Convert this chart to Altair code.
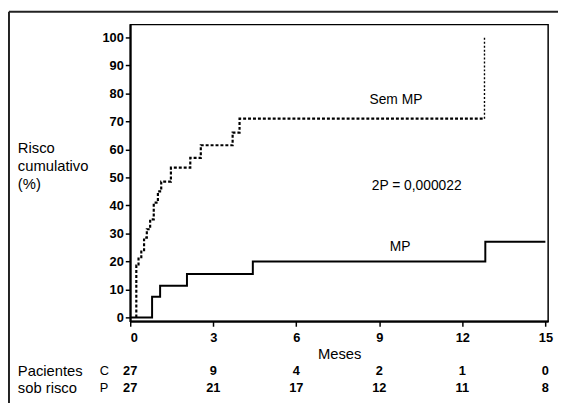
import altair as alt
import pandas as pd

# ---- data ----
sem_t = [0.22, 0.22, 0.30, 0.40, 0.50, 0.60, 0.72, 0.85, 1.00, 1.12, 1.47, 2.17, 2.55, 3.70, 3.95, 12.80]
sem_v = [0.0, 18.5, 21.0, 24.0, 28.5, 31.5, 35.0, 41.0, 45.0, 48.5, 53.5, 57.0, 61.5, 66.0, 71.0, 71.0]
sem_end_t = [12.80, 12.80]
sem_end_v = [71.0, 100.0]

mp_t = [0.0, 0.79, 1.08, 2.05, 4.43, 12.83, 15.0]
mp_v = [0.0, 7.4, 11.3, 15.5, 20.0, 27.0, 27.0]

ann_text = ["Sem MP", "2P = 0,000022", "MP"]
ann_x = [9.6, 10.35, 9.75]
ann_y = [77.5, 46.8, 25.0]

risk_months = [0, 3, 6, 9, 12, 15]
risk_c = [27, 9, 4, 2, 1, 0]
risk_p = [27, 21, 17, 12, 11, 8]

ytitle_lines = ["Risco", "cumulativo", "(%)"]
row_labels = ["Pacientes", "sob risco"]
group_labels = ["C", "P"]

FONT = "Liberation Sans"
XDOM = [0, 15.1]
YDOM = [-1.4, 104.6]

xs = alt.Scale(domain=XDOM, nice=False, zero=False)
ys = alt.Scale(domain=YDOM, nice=False, zero=False)

sem_df = pd.DataFrame({"t": sem_t, "v": sem_v, "o": range(len(sem_t))})
sem_end_df = pd.DataFrame({"t": sem_end_t, "v": sem_end_v, "o": range(2)})
mp_df = pd.DataFrame({"t": mp_t, "v": mp_v, "o": range(len(mp_t))})

x_axis = alt.Axis(values=[0, 3, 6, 9, 12, 15], title="Meses", titleFontSize=15,
                  titleFontWeight="normal", titleFont=FONT, titlePadding=3,
                  titleColor="black",
                  labelFont=FONT, labelFontSize=13, labelColor="black", labelFontWeight="bold",
                  labelOverlap=False,
                  tickSize=5, labelPadding=5, domainColor="black", domainWidth=2,
                  tickColor="black", tickWidth=1.5, grid=False)
y_axis = alt.Axis(values=list(range(0, 101, 10)), title=None,
                  labelFont=FONT, labelFontSize=13, labelColor="black", labelFontWeight="bold",
                  labelOverlap=False,
                  tickSize=5, labelPadding=2, domainColor="black", domainWidth=2,
                  tickColor="black", tickWidth=1.5, grid=False)

X = lambda f: alt.X(f, scale=xs, axis=x_axis)
Y = lambda f: alt.Y(f, scale=ys, axis=y_axis)

mp_line = alt.Chart(mp_df).mark_line(interpolate="step-after", color="black", strokeWidth=2).encode(
    x=X("t:Q"), y=Y("v:Q"), order="o:Q")

sem_line = alt.Chart(sem_df).mark_line(interpolate="step-after", color="black", strokeWidth=2.2,
                                       strokeDash=[3, 2]).encode(
    x=X("t:Q"), y=Y("v:Q"), order="o:Q")

sem_end = alt.Chart(sem_end_df).mark_line(color="black", strokeWidth=1.4, strokeDash=[2, 2]).encode(
    x=X("t:Q"), y=Y("v:Q"), order="o:Q")

ann = alt.Chart(pd.DataFrame({"txt": ann_text, "x": ann_x, "y": ann_y})).mark_text(
    font=FONT, fontSize=14, color="black", align="center", baseline="middle").encode(
    x=X("x:Q"), y=Y("y:Q"), text="txt:N")

layers = [mp_line, sem_line, sem_end, ann]

# risk table
ROW_Y = [351, 369]
for counts, yy in zip([risk_c, risk_p], ROW_Y):
    df = pd.DataFrame({"m": risk_months, "n": [str(v) for v in counts]})
    layers.append(alt.Chart(df).mark_text(
        font=FONT, fontSize=13, fontWeight="bold", color="black", align="center",
        baseline="middle").encode(
        x=X("m:Q"), y=alt.value(yy), text="n:N"))

one = pd.DataFrame({"a": [0]})
for lab, yy in zip(row_labels, ROW_Y):
    layers.append(alt.Chart(one).mark_text(font=FONT, fontSize=15, color="black", align="left",
                                           baseline="middle").encode(
        x=alt.value(-114), y=alt.value(yy), text=alt.value(lab)))
for lab, yy in zip(group_labels, ROW_Y):
    layers.append(alt.Chart(one).mark_text(font=FONT, fontSize=13, color="black", align="left",
                                           baseline="middle").encode(
        x=alt.value(-31), y=alt.value(yy), text=alt.value(lab)))
for lab, yy in zip(ytitle_lines, [125, 144, 162]):
    layers.append(alt.Chart(one).mark_text(font=FONT, fontSize=15, color="black", align="left",
                                           baseline="middle").encode(
        x=alt.value(-114), y=alt.value(yy), text=alt.value(lab)))

frame_top = alt.Chart(one).mark_rule(color="#222", strokeWidth=2).encode(
    x=alt.value(-123), x2=alt.value(700), y=alt.value(-13))
frame_left = alt.Chart(one).mark_rule(color="#222", strokeWidth=2).encode(
    x=alt.value(-123), y=alt.value(-13), y2=alt.value(500))
layers += [frame_top, frame_left]

chart = alt.layer(*layers).properties(
    width=424, height=301,
    padding={"left": 124, "top": 14, "right": 10, "bottom": 80},
    autosize="none",
    background="white",
).configure_view(stroke="black", strokeWidth=1.5)

chart.save("out.html", embed_options={"renderer": "svg", "actions": False})
